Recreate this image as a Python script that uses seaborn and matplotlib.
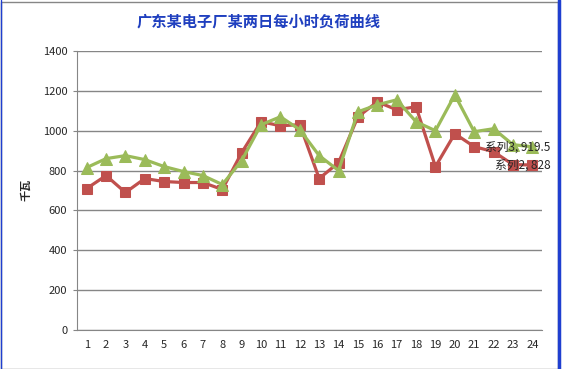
import matplotlib
matplotlib.use("Agg")
import matplotlib.pyplot as plt
import pandas as pd
import seaborn as sns
from matplotlib.patches import Rectangle

hours = list(range(1, 25))
series2 = [710, 775, 690, 760, 745, 740, 740, 705, 890, 1045, 1025, 1030,
           760, 840, 1070, 1145, 1105, 1120, 820, 985, 920, 895, 830, 828]
series3 = [815, 860, 875, 855, 820, 795, 775, 730, 850, 1030, 1070, 1005,
           875, 800, 1095, 1130, 1155, 1045, 1000, 1180, 995, 1010, 930, 919.5]
series_names = ["系列2", "系列3"]
colors = ["#C0504D", "#9BBB59"]
markers = ["s", "^"]
title = "广东某电子厂某两日每小时负荷曲线"
ylabel = "千瓦"

sns.set_style("white")
plt.rcParams["font.family"] = ["Noto Sans CJK SC", "DejaVu Sans"]

df = pd.DataFrame({
    "hour": hours * 2,
    "load": series2 + series3,
    "series": [series_names[0]] * 24 + [series_names[1]] * 24,
})

fig = plt.figure(figsize=(5.62, 3.69), dpi=100)
ax = fig.add_axes([77 / 562, 1 - 330 / 369, 465 / 562, 279 / 369])

for name, c, m in zip(series_names, colors, markers):
    sub = df[df["series"] == name]
    sns.lineplot(data=sub, x="hour", y="load", ax=ax, color=c, marker=m,
                 markersize=7 if m == "s" else 8, markeredgecolor=c,
                 linewidth=2.3, legend=False)

ax.set_xlim(0.5, 24.5)
ax.set_ylim(0, 1400)
ax.set_yticks(range(0, 1401, 200))
ax.set_xticks(hours)
ax.tick_params(axis="both", labelsize=8, pad=4)
ax.tick_params(axis="y", length=3, color="#868686", direction="out", left=True)
ax.tick_params(axis="x", length=0, pad=7)
ax.grid(axis="y", color="#868686", linewidth=1)
ax.set_axisbelow(True)
for s in ["top", "right"]:
    ax.spines[s].set_visible(False)
for s in ["left", "bottom"]:
    ax.spines[s].set_color("#868686")
ax.set_xlabel("")
ax.set_ylabel("")
fig.text(26 / 562, 1 - 190 / 369, ylabel, rotation=90, ha="center",
         va="center", fontsize=8, fontweight="bold")

ax.annotate(f"{series_names[1]}, {series3[-1]}", (hours[-1], series3[-1]),
            xytext=(18, 0), textcoords="offset pixels", ha="right",
            va="center", fontsize=8.5, annotation_clip=False)
ax.annotate(f"{series_names[0]}, {series2[-1]}", (hours[-1], series2[-1]),
            xytext=(18, 0), textcoords="offset pixels", ha="right",
            va="center", fontsize=8.5, annotation_clip=False)

fig.text(259 / 562, 1 - 21 / 369, title, ha="center", va="center",
         fontsize=11, fontweight="bold", color="#1F3FBF")

fig.add_artist(Rectangle((0.002, 0.0), 0.99, 0.995, transform=fig.transFigure,
                         fill=False, edgecolor="#868686", linewidth=1))
fig.add_artist(plt.Line2D([0.9955, 0.9955], [0, 1], transform=fig.transFigure,
                          color="#1F3FD0", linewidth=2.5))
fig.add_artist(plt.Line2D([0.001, 0.001], [0, 1], transform=fig.transFigure,
                          color="#1F3FD0", linewidth=1))

fig.savefig("out.png", dpi=100)
